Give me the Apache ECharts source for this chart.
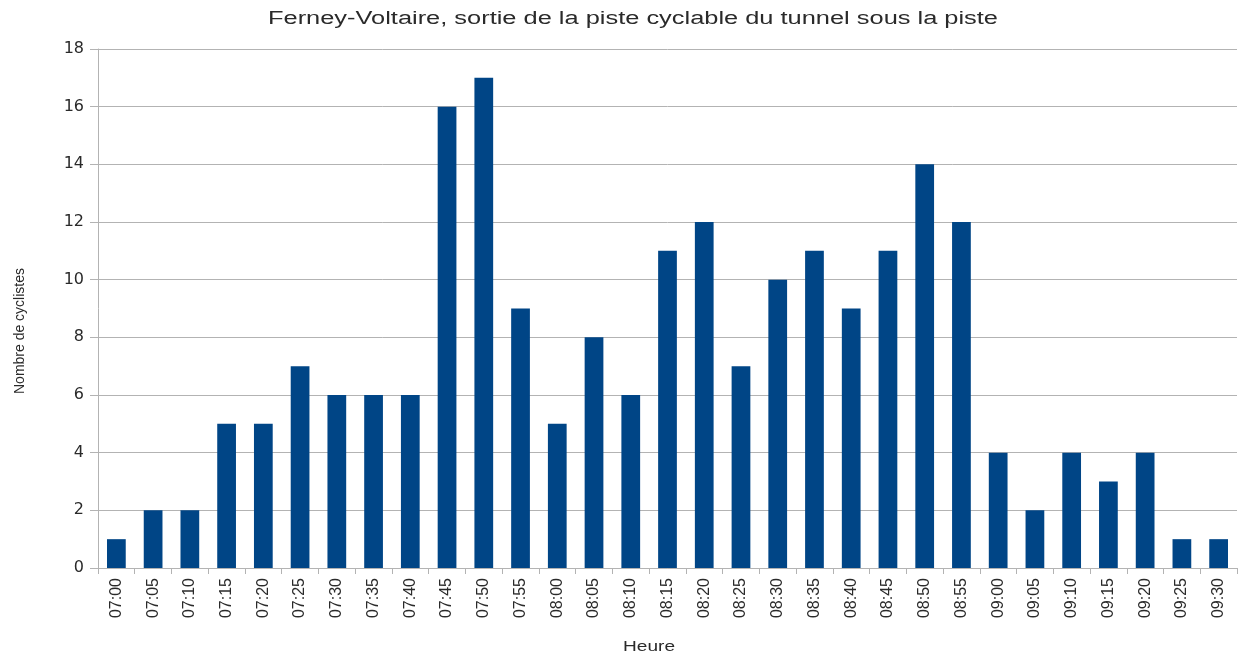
<!DOCTYPE html>
<html>
<head>
<meta charset="utf-8">
<script src="https://cdn.jsdelivr.net/npm/echarts@6/dist/echarts.min.js"></script>
<style>
  html, body { margin: 0; padding: 0; background: #fff; }
  #chart { width: 1239px; height: 657px; }
</style>
</head>
<body>
<div id="chart"></div>
<script>
const heures = ["07:00","07:05","07:10","07:15","07:20","07:25","07:30","07:35","07:40","07:45","07:50","07:55",
  "08:00","08:05","08:10","08:15","08:20","08:25","08:30","08:35","08:40","08:45","08:50","08:55",
  "09:00","09:05","09:10","09:15","09:20","09:25","09:30"]
const cyclistes = [1,2,2,5,5,7,6,6,6,16,17,9,5,8,6,11,12,7,10,11,9,11,14,12,4,2,4,3,4,1,1]

const titre = "Ferney-Voltaire, sortie de la piste cyclable du tunnel sous la piste"
const font = "Liberation Sans"
const textColor = "#2a2a2a"
const gridColor = "#b3b3b3"

// the reference text is drawn wide, so stretch horizontal texts to its width
const measure = document.createElement("canvas").getContext("2d")
function stretch(text, size, targetWidth) {
  measure.font = size + "px '" + font + "'"
  return targetWidth / measure.measureText(text).width
}

function wideText(text, x, y, size, targetWidth) {
  return {
    type: "text",
    x: x,
    y: y,
    scaleX: stretch(text, size, targetWidth),
    style: {
      text: text,
      x: 0,
      y: 0,
      textAlign: "center",
      textVerticalAlign: "middle",
      font: size + "px '" + font + "'",
      fill: textColor
    }
  }
}

const chart = echarts.init(document.getElementById("chart"))

chart.setOption({
  animation: false,
  backgroundColor: "#fff",
  grid: { left: 98, right: 2, top: 49, bottom: 89 },
  graphic: [
    wideText(titre, 633, 19, 18, 730),
    wideText("Heure", 649, 647, 15, 52),
    {
      type: "text",
      x: 20,
      y: 331,
      rotation: Math.PI / 2,
      style: {
        text: "Nombre de cyclistes",
        x: 0,
        y: 0,
        textAlign: "center",
        textVerticalAlign: "middle",
        font: "14px '" + font + "'",
        fill: textColor
      }
    }
  ],
  xAxis: {
    type: "category",
    data: heures,
    axisLine: { lineStyle: { color: gridColor } },
    axisTick: { show: true, alignWithLabel: false, length: 6, lineStyle: { color: gridColor } },
    axisLabel: { rotate: 90, interval: 0, fontFamily: font, fontSize: 16, color: textColor, margin: 10 }
  },
  yAxis: {
    type: "value",
    min: 0,
    max: 18,
    interval: 2,
    axisLine: { show: true, lineStyle: { color: gridColor } },
    axisTick: { show: true, length: 8, lineStyle: { color: gridColor } },
    splitLine: { lineStyle: { color: gridColor } },
    axisLabel: { fontFamily: "DejaVu Sans", fontSize: 16, color: textColor, margin: 14 }
  },
  series: [{
    type: "bar",
    data: cyclistes,
    barWidth: "51%",
    itemStyle: { color: "#004586" }
  }]
})
</script>
</body>
</html>
